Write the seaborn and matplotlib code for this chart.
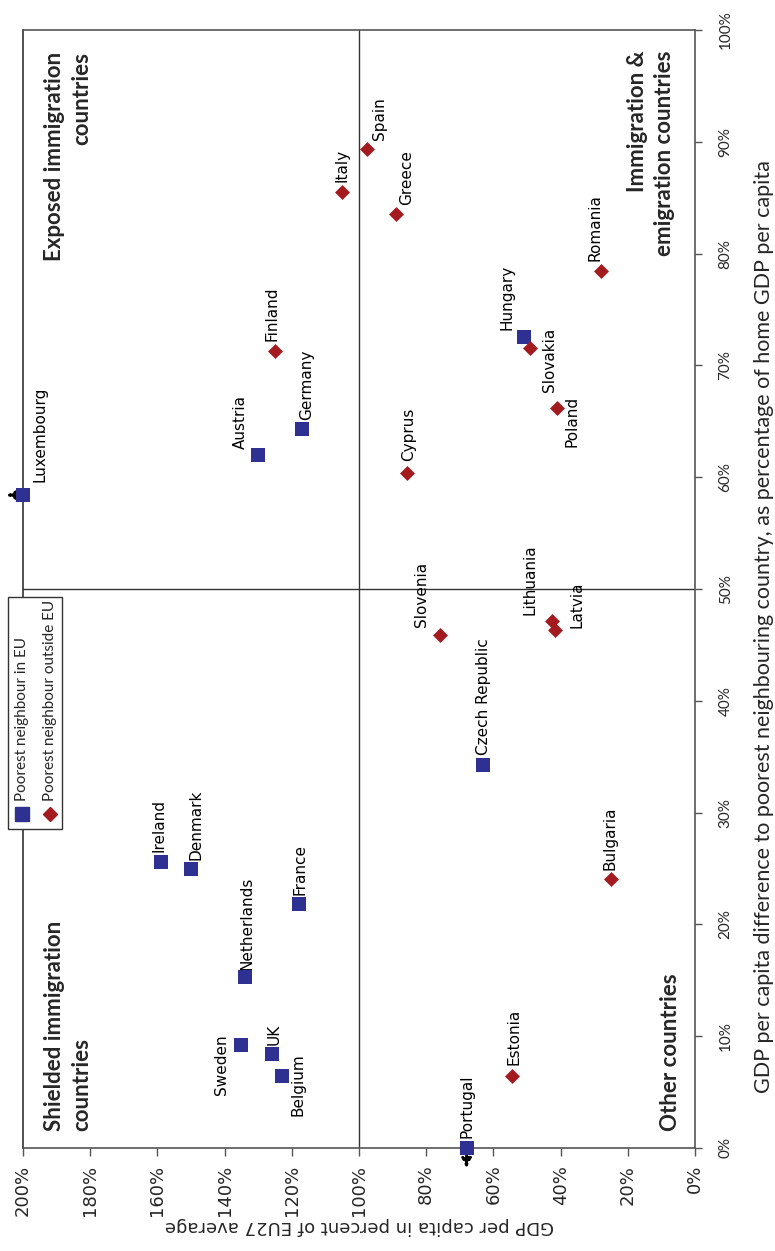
import numpy as np
import pandas as pd
import matplotlib
matplotlib.use('Agg')
import matplotlib.pyplot as plt
import seaborn as sns
from matplotlib.patches import Rectangle
from matplotlib.lines import Line2D
from matplotlib.ticker import PercentFormatter

# poorest neighbour in EU (blue squares)
eu_country = ['Luxembourg', 'Austria', 'Germany', 'Hungary', 'Czech Republic', 'Ireland',
              'Denmark', 'France', 'Netherlands', 'Sweden', 'UK', 'Belgium', 'Portugal']
eu_gdp = [200, 130, 117, 51, 63, 159, 150, 118, 134, 135, 126, 123, 68]
eu_diff = [58.4, 62.0, 64.3, 72.5, 34.3, 25.6, 25.0, 21.8, 15.3, 9.2, 8.4, 6.4, 0]

# poorest neighbour outside EU (red diamonds)
out_country = ['Spain', 'Italy', 'Greece', 'Romania', 'Finland', 'Slovakia', 'Poland',
               'Cyprus', 'Slovenia', 'Lithuania', 'Latvia', 'Bulgaria', 'Estonia']
out_gdp = [97.6, 105, 89, 28, 125, 49, 41, 85.7, 76, 42.7, 41.8, 25, 54.6]
out_diff = [89.4, 85.5, 83.5, 78.4, 71.3, 71.6, 66.2, 60.4, 45.9, 47.1, 46.3, 24.1, 6.4]

gdp_ticks = list(range(0, 201, 20))
diff_ticks = list(range(0, 101, 10))

# label placement: offset in pixels (dx, dy) and alignment
lab_pos = {
    'Luxembourg': (17, 13, 'center', 'bottom'),
    'Austria': (-18, 6, 'center', 'bottom'),
    'Germany': (5, 9, 'center', 'bottom'),
    'Hungary': (-17, 7, 'center', 'bottom'),
    'Czech Republic': (0, 10, 'center', 'bottom'),
    'Ireland': (-2, 10, 'center', 'bottom'),
    'Denmark': (5, 8, 'center', 'bottom'),
    'France': (1, 9, 'center', 'bottom'),
    'Netherlands': (2, 7, 'center', 'bottom'),
    'Sweden': (-20, -20, 'center', 'center'),
    'UK': (2, 9, 'center', 'bottom'),
    'Belgium': (16, -8, 'center', 'center'),
    'Portugal': (0, 10, 'center', 'bottom'),
    'Spain': (12, 9, 'center', 'bottom'),
    'Italy': (0, 10, 'center', 'bottom'),
    'Greece': (11, 9, 'center', 'bottom'),
    'Romania': (-6, 10, 'center', 'bottom'),
    'Finland': (-3, 10, 'center', 'bottom'),
    'Slovakia': (19, -12, 'center', 'center'),
    'Poland': (15, -14, 'center', 'center'),
    'Cyprus': (2, 12, 'center', 'bottom'),
    'Slovenia': (-18, 8, 'center', 'bottom'),
    'Lithuania': (-22, 6, 'center', 'bottom'),
    'Latvia': (22, 2, 'center', 'bottom'),
    'Bulgaria': (-1, 9, 'center', 'bottom'),
    'Estonia': (2, 11, 'center', 'bottom'),
}

blue = '#2e3192'
red = '#a31a1f'

sns.set_style('white')
plt.rcParams['font.family'] = ['DejaVu Sans']

df_eu = pd.DataFrame({'country': eu_country, 'gdp': eu_gdp, 'diff': eu_diff})
df_out = pd.DataFrame({'country': out_country, 'gdp': out_gdp, 'diff': out_diff})

fig = plt.figure(figsize=(7.75, 12.51), dpi=100)
ax = fig.add_axes([23/775, 1 - 1148/1251, 672/775, 1118/1251])

sns.scatterplot(data=df_eu, x='gdp', y='diff', marker='s', s=100, color=blue,
                linewidth=0, ax=ax, clip_on=False, zorder=5)
sns.scatterplot(data=df_out, x='gdp', y='diff', marker='D', s=58, color=red,
                linewidth=0, ax=ax, clip_on=False, zorder=5)

ax.set_xlim(200, 0)
ax.set_ylim(0, 100)
ax.axvline(100, color='#333333', lw=1, zorder=1)
ax.axhline(50, color='#333333', lw=1, zorder=1)

# arrows for values beyond the axis range
lux = eu_country.index('Luxembourg')
ax.annotate('', xy=(eu_gdp[lux] + 5, eu_diff[lux]), xytext=(eu_gdp[lux], eu_diff[lux]),
            arrowprops=dict(arrowstyle='-|>', linestyle=':', color='black', lw=2,
                            mutation_scale=14, shrinkA=0, shrinkB=0),
            annotation_clip=False, zorder=4)
por = eu_country.index('Portugal')
ax.annotate('', xy=(eu_gdp[por], eu_diff[por] - 1.8), xytext=(eu_gdp[por], eu_diff[por]),
            arrowprops=dict(arrowstyle='-|>', linestyle=':', color='black', lw=2,
                            mutation_scale=14, shrinkA=0, shrinkB=0),
            annotation_clip=False, zorder=4)

for d in [df_eu, df_out]:
    for _, r in d.iterrows():
        dx, dy, ha, va = lab_pos[r['country']]
        ax.annotate(r['country'], (r['gdp'], r['diff']), xytext=(dx, dy),
                    textcoords='offset pixels', rotation=90, ha=ha, va=va,
                    fontsize=11, color='black', annotation_clip=False)

# quadrant names
qfont = dict(fontsize=16, fontweight='bold', family=['Lato', 'DejaVu Sans'],
             rotation=90, transform=ax.transAxes, linespacing=1.4)
ax.text(0.067, 0.98, 'Exposed immigration\ncountries', ha='center', va='top',
        multialignment='right', **qfont)
ax.text(0.9345, 0.982, 'Immigration &\nemigration countries', ha='center', va='top',
        multialignment='right', **qfont)
ax.text(0.067, 0.015, 'Shielded immigration\ncountries', ha='center', va='bottom',
        multialignment='left', **qfont)
ax.text(0.963, 0.015, 'Other countries', ha='center', va='bottom', **qfont)

# axes styling
for side in ['top', 'right', 'bottom', 'left']:
    ax.spines[side].set_color('#555555')
    ax.spines[side].set_linewidth(1.2)
ax.spines['left'].set_color('#333333')

ax.set_xticks(gdp_ticks)
ax.set_yticks(diff_ticks)
ax.xaxis.set_major_formatter(PercentFormatter(decimals=0))
ax.yaxis.set_major_formatter(PercentFormatter(decimals=0))
ax.yaxis.tick_right()
ax.yaxis.set_label_position('right')
ax.tick_params(axis='x', direction='out', length=6, width=1, color='#555555',
               bottom=True, pad=6)
ax.tick_params(axis='y', direction='out', length=5, width=1, color='#555555',
               right=True, left=False, pad=12)
for t in ax.get_xticklabels():
    t.set_rotation(90)
    t.set_fontsize(13)
    t.set_family(['Liberation Sans Narrow', 'DejaVu Sans'])
for t in ax.get_yticklabels():
    t.set_rotation(90)
    t.set_va('center')
    t.set_fontsize(11)
    t.set_family(['Lato', 'DejaVu Sans'])

ax.set_xlabel('GDP per capita in percent of EU27 average', rotation=180, fontsize=13,
              family=['Liberation Sans Narrow', 'DejaVu Sans'], labelpad=1)
ax.set_ylabel('GDP per capita difference to poorest neighbouring country, as percentage of home GDP per capita',
              rotation=90, fontsize=15.5, family=['Lato', 'DejaVu Sans'])
ax.yaxis.set_label_coords(1.088, 0.466)

# legend drawn upright in the rotated layout, in the lower-left quadrant
fig.add_artist(Rectangle((8/775, 1 - 829/1251), 54/775, 232/1251, transform=fig.transFigure,
                         facecolor='white', edgecolor='#333333', lw=1, zorder=10))
leg_items = [('Poorest neighbour in EU', 's', 10, blue, 22),
             ('Poorest neighbour outside EU', 'D', 7.6, red, 50)]
for txt, mk, ms, col, px in leg_items:
    fig.add_artist(Line2D([px/775], [1 - 814/1251], marker=mk, markersize=ms, color=col,
                          linestyle='none', transform=fig.transFigure, zorder=11))
    fig.text(px/775, 1 - 801/1251, txt, rotation=90, ha='center', va='bottom',
             fontsize=11, family=['Lato', 'DejaVu Sans'], zorder=11)

fig.savefig('out.png', dpi=100)
